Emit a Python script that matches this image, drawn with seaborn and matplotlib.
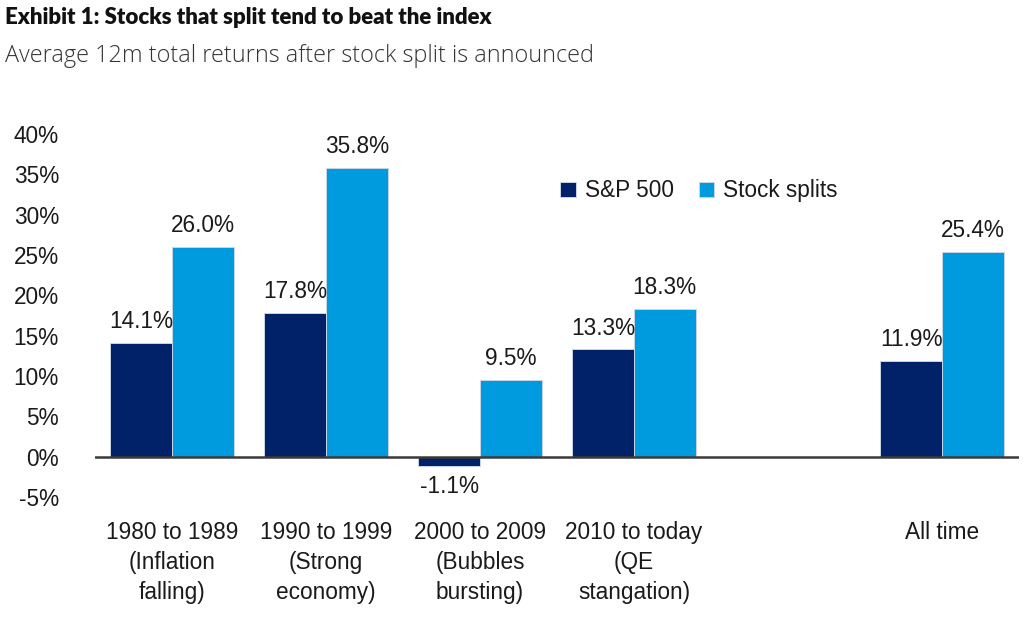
import matplotlib
matplotlib.use("Agg")
import matplotlib.pyplot as plt
import seaborn as sns
import pandas as pd

categories = ["1980 to 1989\n(Inflation\nfalling)", "1990 to 1999\n(Strong\neconomy)",
              "2000 to 2009\n(Bubbles\nbursting)", "2010 to today\n(QE\nstangation)", "All time"]
slots = categories[:4] + [" "] + categories[4:]
sp500 = [14.1, 17.8, -1.1, 13.3, 11.9]
splits = [26.0, 35.8, 9.5, 18.3, 25.4]
series = ["S&P 500", "Stock splits"]
yticks = [-5, 0, 5, 10, 15, 20, 25, 30, 35, 40]

df = pd.DataFrame({
    "cat": categories * 2,
    "series": [series[0]] * len(categories) + [series[1]] * len(categories),
    "val": sp500 + splits,
})

sns.set_theme(style="white")
plt.rcParams['font.family'] = ['Liberation Sans', 'DejaVu Sans']
FS = 16.3

fig = plt.figure(figsize=(10.3, 6.22), dpi=100)
ax = fig.add_axes([95/1030, 1-497/622, 924/1030, 363/622])

sns.barplot(data=df, x="cat", y="val", hue="series", order=slots, hue_order=series,
            palette=["#012169", "#009ADE"], saturation=1, errorbar=None, width=0.8,
            edgecolor="#c9d6e6", linewidth=0.7, ax=ax, legend=True)

for c in ax.containers:
    ax.bar_label(c, labels=[f"{v:.1f}%" for v in c.datavalues], padding=7,
                 fontsize=FS, color="#1a1a1a")

ax.set_xlim(-0.5, 5.5)
ax.set_ylim(-5, 40)
ax.set_yticks(yticks)
ax.set_yticklabels([f"{t}%" for t in yticks], fontsize=FS, color="#1a1a1a")
ax.set_xticks(range(len(slots)))
ax.set_xticklabels(slots, fontsize=FS, color="#1a1a1a", linespacing=1.4, va="top")
ax.tick_params(axis="y", length=0, pad=26)
ax.tick_params(axis="x", length=0, pad=17)
ax.set_xlabel("")
ax.set_ylabel("")
for s in ax.spines.values():
    s.set_visible(False)
ax.axhline(0, color="#3a3a3a", lw=1.8, zorder=3)

ax.legend(loc="center left", bbox_to_anchor=(0.503, 0.843), ncol=2, frameon=False,
          handlelength=0.7, handleheight=0.7, handletextpad=0.4, columnspacing=1.1,
          borderpad=0, borderaxespad=0, fontsize=FS, labelcolor="#1a1a1a")

fig.text(5/1030, 1-7/622, "Exhibit 1: Stocks that split tend to beat the index",
         fontsize=16, fontweight="heavy", va="top", ha="left",
         color="#111111", family=['Lato', 'Liberation Sans', 'DejaVu Sans'])
fig.text(5/1030, 1-44/622, "Average 12m total returns after stock split is announced",
         fontsize=16.8, fontweight="light", va="top", ha="left", color="#333333",
         family=['Open Sans', 'DejaVu Sans'])

fig.savefig("out.png", dpi=100)
